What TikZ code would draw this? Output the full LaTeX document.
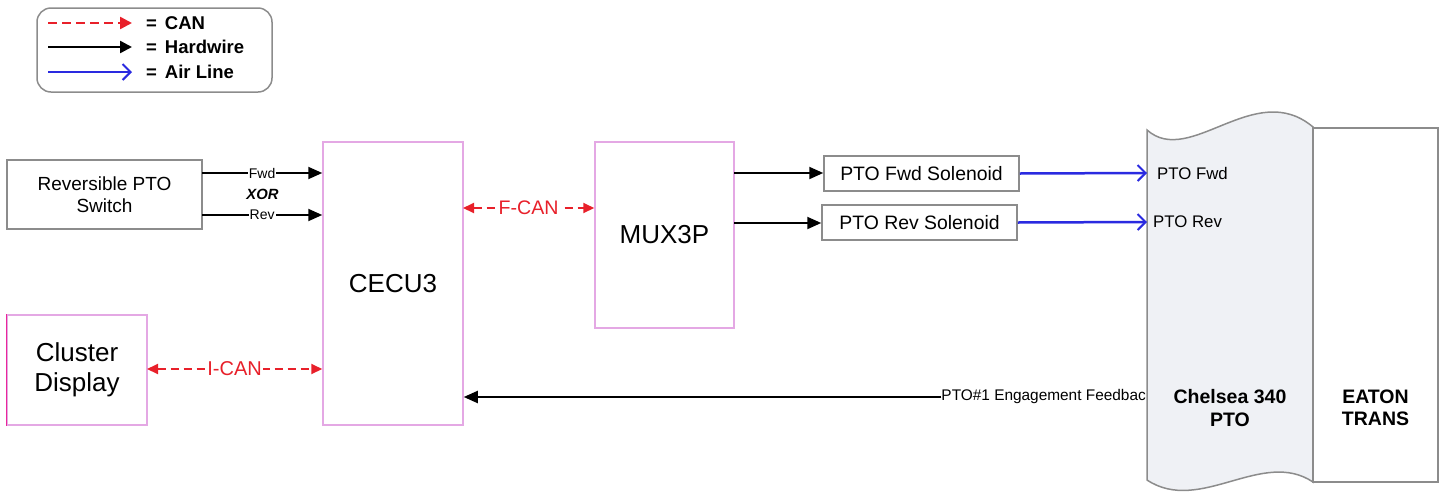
\documentclass[tikz,border=0pt]{standalone}
\usepackage{fontspec}
\setmainfont{Liberation Sans}
\usetikzlibrary{arrows.meta}
\definecolor{pinkb}{HTML}{E4A8E4}
\definecolor{canred}{HTML}{E8202A}
\definecolor{airblue}{HTML}{2A2AE0}
\definecolor{grayb}{HTML}{8C8C8C}
\definecolor{ptofill}{HTML}{EFF1F5}
\tikzset{
  fs/.style={font=\fontsize{#1}{#1}\selectfont\setlength{\baselineskip}{1.15\baselineskip}},
  bold/.style={node font=\bfseries},
  bolditalic/.style={node font=\bfseries\itshape},
  pinkbox/.style={draw=pinkb, line width=1.5pt, fill=white, inner sep=0pt, align=center},
  graybox/.style={draw=grayb, line width=1.5pt, fill=white, inner sep=0pt, align=center},
  hw/.style={draw=black, line width=2pt, -{Triangle[length=14pt,width=12pt]}},
  can/.style={draw=canred, line width=2pt, dash pattern=on 8pt off 5pt, {Triangle[length=11pt,width=10pt]}-{Triangle[length=11pt,width=10pt]}},
  air/.style={draw=airblue, line width=2.5pt, -{Straight Barb[length=8pt,width=16pt,line width=2pt]}},
  lbl/.style={fill=white, inner sep=1pt},
}
\begin{document}
\begin{tikzpicture}[x=1pt,y=-1pt]
\useasboundingbox (0,0) rectangle (1444,496);
% legend
\node[draw=grayb, line width=1.5pt, rounded corners=14pt, minimum width=235pt, minimum height=84pt, inner sep=0pt] (legend) at (154.5,50) {};
\coordinate (l1a) at (48,23); \coordinate (l1b) at (132,23);
\coordinate (l2a) at (48,47); \coordinate (l2b) at (132,47);
\coordinate (l3a) at (48,72); \coordinate (l3b) at (132,72);
\draw[draw=canred, line width=2.5pt, dash pattern=on 9pt off 5pt, -{Triangle[length=12pt,width=12pt]}] (l1a) -- (l1b);
\draw[draw=black, line width=2.5pt, -{Triangle[length=12pt,width=12pt]}] (l2a) -- (l2b);
\draw[draw=airblue, line width=2pt, -{Straight Barb[length=8pt,width=16pt,line width=2pt]}] (l3a) -- (l3b);
\node[anchor=west, fs=18.5, bold, inner sep=0pt] (t1) at (146,23) {=\hspace{8pt}CAN};
\node[anchor=west, fs=18.5, bold, inner sep=0pt] (t2) at (146,47) {=\hspace{8pt}Hardwire};
\node[anchor=west, fs=18.5, bold, inner sep=0pt] (t3) at (146,72) {=\hspace{8pt}Air Line};
% boxes
\node[graybox, minimum width=195pt, minimum height=69pt, fs=19] (rev) at (104.5,194.5) {Reversible PTO\\Switch};
\node[pinkbox, minimum width=140pt, minimum height=283pt, fs=26] (cecu) at (393,283.5) {CECU3};
\node[pinkbox, minimum width=139pt, minimum height=186pt, fs=26] (mux) at (664.5,235) {MUX3P};
\node[graybox, minimum width=195pt, minimum height=35pt, fs=19.4] (fsol) at (921.5,173.5) {PTO Fwd Solenoid};
\node[graybox, minimum width=195pt, minimum height=35pt, fs=19.4] (rsol) at (919.5,222.5) {PTO Rev Solenoid};
\node[pinkbox, minimum width=140pt, minimum height=110pt, fs=26] (clus) at (77,370) {Cluster\\Display};
\draw[draw=magenta!80!pinkb, line width=1.5pt] (clus.north west) -- (clus.south west);
% Chelsea PTO wavy shape
\path[draw=grayb, line width=1.5pt, fill=ptofill]
  (1147,130) .. controls (1190,168) and (1255,78) .. (1313,127)
  -- (1313,482) .. controls (1262,448) and (1200,515) .. (1147,480) -- cycle;
\node[graybox, minimum width=125pt, minimum height=354pt] (eaton) at (1375.5,305) {};
\node[fs=19.5, bold, align=center] (chel) at (1230,408) {Chelsea 340\\PTO};
\node[fs=19.5, bold, align=center] (etxt) at (1375.5,408) {EATON\\TRANS};
\coordinate (cfwd) at (1147,173);
\coordinate (crev) at (1147,222);
\node[anchor=west, fs=16.8, inner sep=0pt] (pfwd) at (1157,173) {PTO Fwd};
\node[anchor=west, fs=16.8, inner sep=0pt] (prev) at (1153,222) {PTO Rev};
% connectors
\coordinate (rfwd) at (202,173);
\coordinate (rrev) at (202,215);
\draw[hw] (rfwd) -- node[lbl, fs=14] (lfwd) {Fwd} (cecu.west |- rfwd);
\draw[hw] (rrev) -- node[lbl, fs=14] (lrev) {Rev} (cecu.west |- rrev);
\node[fs=14.8, bolditalic] (xor) at (262.5,194) {XOR};
\coordinate (fc) at (463,208);
\draw[can] (fc) -- node[lbl, fs=19.6, text=canred] (lfcan) {F-CAN} (mux.west |- fc);
\coordinate (ic) at (147,369);
\draw[can] (ic) -- node[lbl, fs=20, text=canred] (lican) {I-CAN} (cecu.west |- ic);
\coordinate (m1) at (734,173);
\coordinate (m2) at (734,223);
\draw[hw] (m1) -- (fsol.west |- m1);
\draw[hw] (m2) -- (rsol.west |- m2);
\draw[air] (fsol.east) -- (cfwd);
\draw[air] (rsol.east) -- (crev);
\node[anchor=east, fs=15.4, inner sep=0pt] (fb) at (1146,397) {PTO\#1 Engagement Feedbac};
\draw[hw] (fb.west) -- (cecu.east |- fb.west);
\end{tikzpicture}
\end{document}
